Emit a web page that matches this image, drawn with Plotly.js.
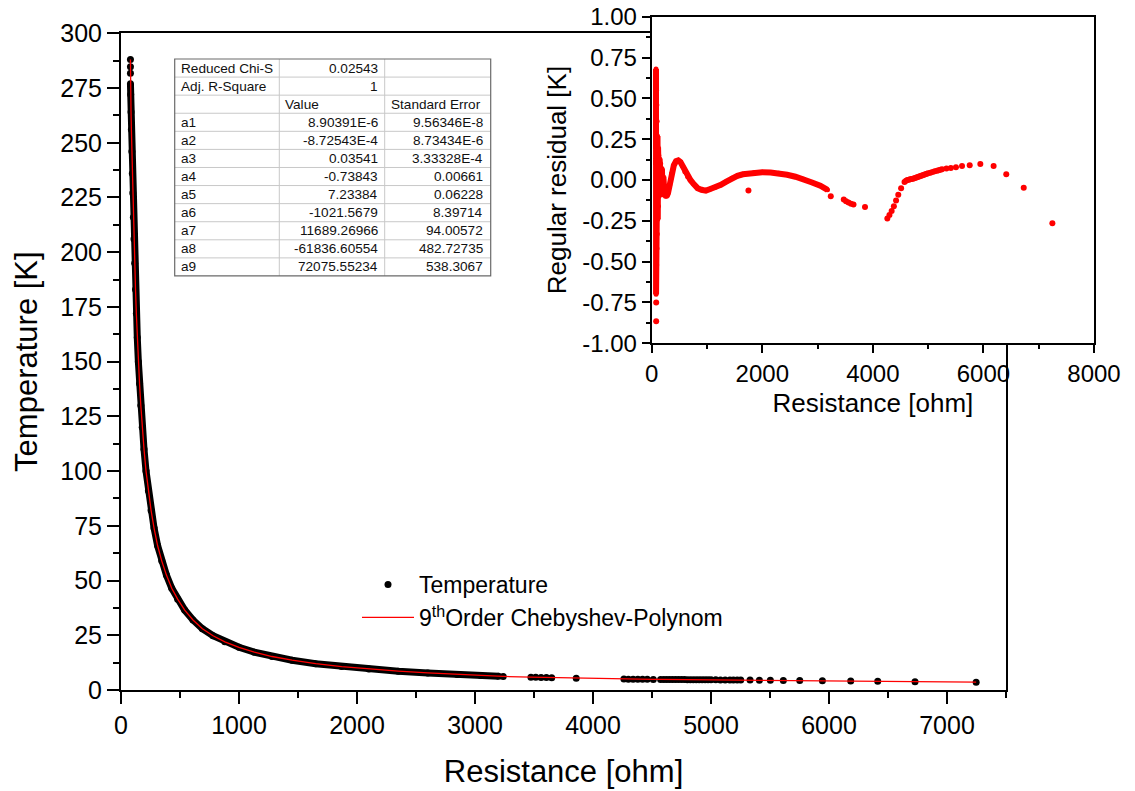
<!DOCTYPE html>
<html><head><meta charset="utf-8">
<script src="https://cdn.plot.ly/plotly-3.0.1.min.js"></script>
<style>html,body{margin:0;padding:0;background:#fff}#chart{width:1135px;height:791px}</style>
</head><body><div id="chart"></div>
<script>
// ---------- data ----------
const isolatedResistance = [80, 80, 80];
const isolatedTemperature = [288, 284.7, 281.7];

const denseResistance = [80,82,85,88,92,96,100,105,110,116,123,130,138,147,157,168,180,195,212,232,255,280,310,345,385,430,480,540,610,690,780,880,1000,1130,1280,1450,1650,1870,2100,2350,2600,2850,3050,3200];
const denseTemperature = [277,272,264,256,246,236,227,216,206,195,183,172,161,150,140,130,120,110,100,91,82,74,66,59,52.5,46.5,41.5,36.5,32,28,24.8,22,19.5,17.3,15.3,13.6,12,10.7,9.6,8.6,7.8,7.1,6.6,6.3];

const tailResistance = [3239,3474,3515,3560,3605,3650,3858,4262,4300,4340,4380,4420,4460,4511,4573,4600,4625,4650,4675,4700,4725,4750,4775,4800,4825,4850,4875,4900,4925,4950,4975,5000,5040,5080,5120,5160,5190,5222,5252,5331,5410,5503,5613,5752,5944,6184,6413,6729,7247];
const tailTemperature = [6.2,5.85,5.8,5.75,5.7,5.65,5.35,4.98,4.96,4.94,4.92,4.9,4.88,4.85,4.82,4.81,4.8,4.79,4.78,4.77,4.76,4.75,4.74,4.73,4.72,4.71,4.7,4.69,4.68,4.67,4.66,4.65,4.63,4.61,4.6,4.58,4.57,4.56,4.55,4.52,4.48,4.44,4.38,4.3,4.2,4.07,3.96,3.8,3.58];

const residualDenseResistance = [78,79,80,81,82,83,84,86,88,90,92,95,98,101,105,110,115,121,128,135,143,152,162,173,185,198,212,228,248,270,295,325,360,400,440,480,520,560,600,650,700,760,830,900,980,1060,1150,1250,1350,1450,1550,1650,1750,1850,2000,2150,2300,2450,2600,2750,2900,3050,3180];
const residualDense = [0.68,-0.70,0.67,-0.69,0.66,-0.66,0.62,-0.6,0.55,-0.52,0.46,-0.42,0.36,-0.33,0.27,-0.24,0.2,-0.16,0.15,-0.1,0.13,-0.05,0.1,-0.06,0.07,-0.09,0.02,-0.08,-0.1,-0.1,-0.08,-0.03,0.04,0.09,0.115,0.12,0.11,0.085,0.05,0.02,0.0,-0.025,-0.05,-0.06,-0.065,-0.055,-0.045,-0.03,-0.01,0.01,0.025,0.035,0.04,0.045,0.047,0.046,0.042,0.032,0.02,0.005,-0.015,-0.035,-0.06];
const residualTail = [-0.10,-0.12,-0.13,-0.138,-0.145,-0.15,-0.165,-0.235,-0.215,-0.19,-0.16,-0.125,-0.09,-0.05,-0.012,-0.004,0.0,0.002,0.004,0.006,0.008,0.011,0.014,0.017,0.02,0.023,0.026,0.029,0.032,0.035,0.038,0.041,0.045,0.049,0.053,0.057,0.06,0.063,0.066,0.07,0.074,0.078,0.086,0.09,0.098,0.086,0.035,-0.047,-0.265];
const residualOutlierResistance = [1750, 81, 81];
const residualOutlier = [-0.065, -0.75, -0.865];

const fitRowLabels = ['Reduced Chi-S','Adj. R-Square','','a1','a2','a3','a4','a5','a6','a7','a8','a9'];
const fitRowValues = ['0.02543','1','Value','8.90391E-6','-8.72543E-4','0.03541','-0.73843','7.23384','-1021.5679','11689.26966','-61836.60554','72075.55234'];
const fitRowErrors = ['','','Standard Error','9.56346E-8','8.73434E-6','3.33328E-4','0.00661','0.06228','8.39714','94.00572','482.72735','538.3067'];

const residualTickVals = [-1,-0.75,-0.5,-0.25,0,0.25,0.5,0.75,1];
const residualTickText = ['-1.00','-0.75','-0.50','-0.25','0.00','0.25','0.50','0.75','1.00'];

// ---------- layout geometry ----------
const W = 1135, H = 791;
const M = {l:121, r:40, t:16, b:101};
const PW = W - M.l - M.r, PH = H - M.t - M.b;
const px = x => (x - M.l) / PW;
const py = y => (H - M.b - y) / PH;

const FONT = 'Liberation Sans, Arial, Helvetica, sans-serif';

const allR = isolatedResistance.concat(denseResistance, tailResistance);
const allT = isolatedTemperature.concat(denseTemperature, tailTemperature);
const fitR = [isolatedResistance[0]].concat(denseResistance, tailResistance);
const fitT = [isolatedTemperature[0]].concat(denseTemperature, tailTemperature);

const traces = [
  {x: denseResistance, y: denseTemperature, xaxis:'x', yaxis:'y', mode:'lines', line:{color:'black', width:7}, showlegend:false, hoverinfo:'skip'},
  {x: allR, y: allT, xaxis:'x', yaxis:'y', mode:'markers', name:'Temperature', marker:{color:'black', size:7}},
  {x: fitR, y: fitT, xaxis:'x', yaxis:'y', mode:'lines', name:'9<sup>th</sup>Order Chebyshev-Polynom', line:{color:'#ff0000', width:1.3}},
  {x: residualDenseResistance, y: residualDense, xaxis:'x2', yaxis:'y2', mode:'lines+markers', line:{color:'#ff0000', width:6}, marker:{color:'#ff0000', size:5}, showlegend:false},
  {x: tailResistance, y: residualTail, xaxis:'x2', yaxis:'y2', mode:'markers', marker:{color:'#ff0000', size:6}, showlegend:false},
  {x: residualOutlierResistance, y: residualOutlier, xaxis:'x2', yaxis:'y2', mode:'markers', marker:{color:'#ff0000', size:6}, showlegend:false}
];

// table
const shapes = [];
const annotations = [];
const tL = 174.7, tC1 = 279.3, tC2 = 384.7, tR = 490.7, tTop = 59, rowH = 18.08;
const nRows = fitRowLabels.length;
for (let i = 1; i < nRows; i++) {
  shapes.push({type:'line', xref:'paper', yref:'paper', x0:px(tL), x1:px(tR), y0:py(tTop+i*rowH), y1:py(tTop+i*rowH), line:{color:'#c8c8c8', width:1}});
}
[tC1, tC2].forEach(c => shapes.push({type:'line', xref:'paper', yref:'paper', x0:px(c), x1:px(c), y0:py(tTop), y1:py(tTop+nRows*rowH), line:{color:'#c8c8c8', width:1}}));
shapes.push({type:'rect', xref:'paper', yref:'paper', x0:px(tL), x1:px(tR), y0:py(tTop), y1:py(tTop+nRows*rowH), line:{color:'#6a6a6a', width:1.2}, fillcolor:'rgba(0,0,0,0)'});
function addCell(x, y, text, anchor) {
  if (!text) return;
  annotations.push({xref:'paper', yref:'paper', x:px(x), y:y, text:text, showarrow:false, xanchor:anchor, yanchor:'middle', borderpad:0,
    font:{family:FONT, size:13.6, color:'#111'}});
}
for (let i = 0; i < nRows; i++) {
  const yc = py(tTop + (i+0.5)*rowH);
  addCell(tL+5, yc, fitRowLabels[i], 'left');
  if (i === 2) {
    addCell(tC1+5, yc, fitRowValues[i], 'left');
    addCell(tC2+5, yc, fitRowErrors[i], 'left');
  } else {
    addCell(tC2-6, yc, fitRowValues[i], 'right');
    addCell(tR-7, yc, fitRowErrors[i], 'right');
  }
}

const axCommon = {showline:true, linewidth:2, linecolor:'black', mirror:true, ticks:'outside', tickcolor:'black', tickwidth:2, showgrid:false, zeroline:false};

const minorRes = [];
for (let v = -0.875; v < 1; v += 0.25) minorRes.push(v);

const layout = {
  width: W, height: H,
  margin: {l:M.l, r:M.r, t:M.t, b:M.b, pad:0},
  paper_bgcolor:'white', plot_bgcolor:'white',
  font: {family: FONT, color:'black'},
  showlegend: true,
  legend: {x: px(357), y: py(563), xanchor:'left', yanchor:'top', bgcolor:'rgba(0,0,0,0)', font:{size:23, family:FONT}, itemwidth:52, tracegroupgap:0},
  xaxis: Object.assign({}, axCommon, {domain:[0, px(1006)], anchor:'y', range:[0,7500], tick0:0, dtick:1000, ticklen:12, tickfont:{size:25},
    minor:{dtick:500, ticks:'outside', ticklen:6, tickwidth:2, tickcolor:'black', showgrid:false},
    title:{text:'Resistance [ohm]', font:{size:31}, standoff:22}}),
  yaxis: Object.assign({}, axCommon, {domain:[0, py(33.3)], anchor:'x', range:[0,300], tick0:0, dtick:25, ticklen:12, tickfont:{size:25},
    minor:{dtick:12.5, ticks:'outside', ticklen:6, tickwidth:2, tickcolor:'black', showgrid:false},
    title:{text:'Temperature [K]', font:{size:31}, standoff:13}}),
  xaxis2: Object.assign({}, axCommon, {domain:[px(651.7), px(1094)], anchor:'y2', range:[0,8000], tick0:0, dtick:2000, ticklen:8, tickfont:{size:24},
    minor:{dtick:1000, ticks:'outside', ticklen:4, tickwidth:2, tickcolor:'black', showgrid:false},
    title:{text:'Resistance [ohm]', font:{size:26}, standoff:8}}),
  yaxis2: Object.assign({}, axCommon, {domain:[py(343.3), py(16.7)], anchor:'x2', range:[-1,1], tickmode:'array', tickvals:residualTickVals, ticktext:residualTickText, ticklen:8, tickfont:{size:24},
    minor:{tickvals:minorRes, ticks:'outside', ticklen:4, tickwidth:2, tickcolor:'black', showgrid:false},
    title:{text:'Regular residual [K]', font:{size:26}, standoff:8}}),
  shapes: shapes,
  annotations: annotations
};

Plotly.newPlot('chart', traces, layout, {displayModeBar:false, responsive:false});
</script></body></html>
